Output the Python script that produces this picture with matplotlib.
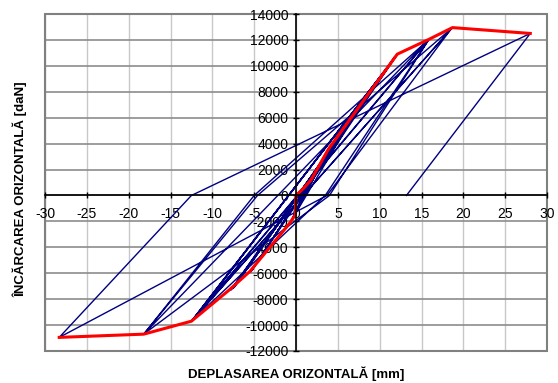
import matplotlib
matplotlib.use("Agg")
import matplotlib.pyplot as plt
from matplotlib.patches import Rectangle

plt.rcParams["font.family"] = ["Liberation Sans", "DejaVu Sans"]
plt.rcParams["axes.unicode_minus"] = False

# bucle de histerezis (deplasare mm / incarcare daN)
disp_cycles = [0, 1.7, -0.1, 1.6, -0.2, 3.9, -0.7, 3.8, -0.6, 3.7, -0.8, 7.6, -5.3, 7.5, -5.2, 7.4, -5.4,
               12.1, -7.8, 12.0, -7.6, 11.9, -7.5, 11.8, -7.4, 12.1, -12.5, 12.0, -12.4, 11.9, -12.3,
               15.9, 3.5, -12.5, 15.8, -18.2, -5.0, 15.9, 4.0, -18.2, -4.6, 18.7,
               -12.4, 18.6, 3.7, -28.3, -12.5, 28.0, 13.2]
load_cycles = [0, 1200, -1500, 1100, -1400, 3500, -2100, 3400, -2000, 3300, -2200, 6900, -5800, 6800, -5700, 6700, -5900,
               10900, -7300, 10800, -7200, 10750, -7150, 10700, -7100, 10850, -9700, 10800, -9650, 10700, -9600,
               12050, 0, -9700, 12000, -10700, 0, 12050, 0, -10700, 0, 12950,
               -9650, 12900, 0, -10950, 0, 12500, 0]

# curba infasuratoare
disp_env = [-28.3, -18.2, -12.5, -8.0, -5.5, -0.7, -0.1, 0, 0.9, 1.8, 3.9, 12.1, 15.9, 18.7, 28.0]
load_env = [-10950, -10700, -9700, -7300, -5850, -2100, -1500, 0, 550, 1200, 3600, 10900, 12050, 12950, 12500]

x_ticks = list(range(-30, 31, 5))
y_ticks = list(range(-12000, 14001, 2000))

fig = plt.figure(figsize=(5.58, 3.83), dpi=100)
ax = fig.add_axes([45 / 558, 32 / 383, 502 / 558, 337 / 383])

ax.set_xlim(-30, 30)
ax.set_ylim(-12000, 14000)
ax.set_xticks(x_ticks)
ax.set_yticks(y_ticks)

for xv in x_ticks:
    ax.axvline(xv, color="#c8c8c8", lw=1.0, zorder=0)
for yv in y_ticks:
    ax.axhline(yv, color="#8c8c8c", lw=1.2, zorder=0)

ax.plot(disp_cycles, load_cycles, color="#000080", lw=1.0, zorder=2)
ax.plot(disp_env, load_env, color="#ff0000", lw=2.2, zorder=3)

ax.spines["left"].set_position(("data", 0))
ax.spines["bottom"].set_position(("data", 0))
for s in ["left", "bottom"]:
    ax.spines[s].set_color("black")
    ax.spines[s].set_linewidth(1.2)
    ax.spines[s].set_zorder(4)
ax.spines["top"].set_visible(False)
ax.spines["right"].set_visible(False)
ax.add_patch(Rectangle((0, 0), 1, 1, transform=ax.transAxes, fill=False,
                       ec="#808080", lw=1.5, clip_on=False, zorder=1))

ax.tick_params(direction="inout", length=5, width=1, labelsize=10, colors="black")
ax.tick_params(axis="x", pad=6)
ax.tick_params(axis="y", pad=3)

fig.text(296 / 558, 1 - 374 / 383, "DEPLASAREA ORIZONTALĂ [mm]", ha="center", va="center",
         fontsize=9.5, fontweight="bold")
fig.text(20 / 558, 1 - 189 / 383, "ÎNCĂRCAREA ORIZONTALĂ [daN]", ha="center", va="center",
         rotation=90, fontsize=9.5, fontweight="bold")

fig.savefig("out.png", dpi=100)
